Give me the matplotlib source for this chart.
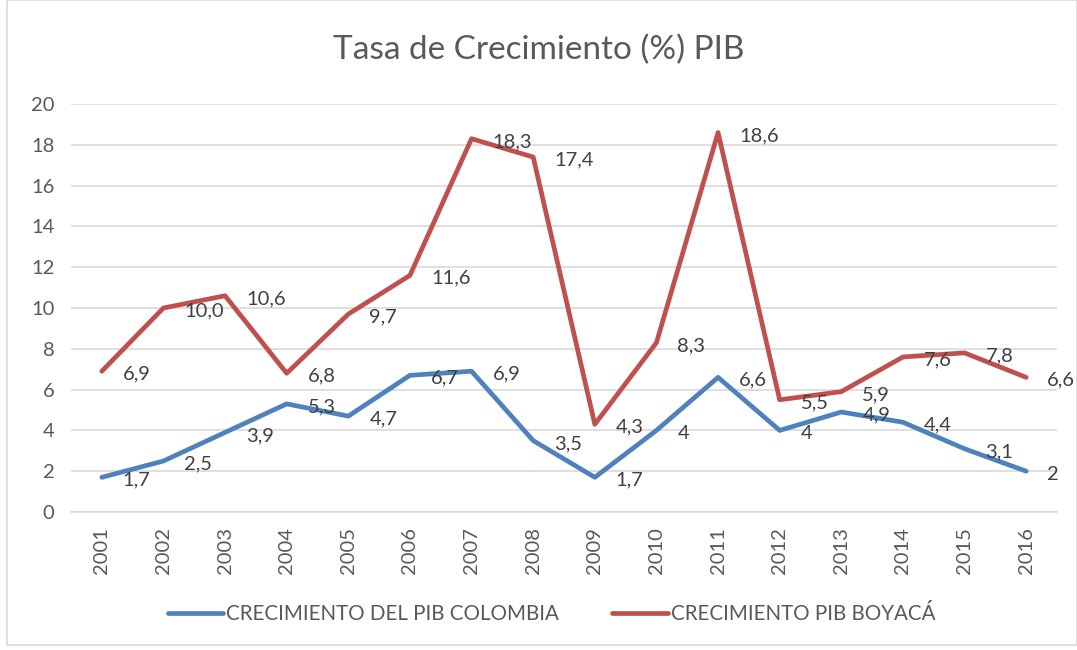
import matplotlib
matplotlib.use("Agg")
import matplotlib.pyplot as plt
from matplotlib.patches import Rectangle

years = ["2001", "2002", "2003", "2004", "2005", "2006", "2007", "2008",
         "2009", "2010", "2011", "2012", "2013", "2014", "2015", "2016"]
colombia = [1.7, 2.5, 3.9, 5.3, 4.7, 6.7, 6.9, 3.5, 1.7, 4, 6.6, 4, 4.9, 4.4, 3.1, 2]
colombia_labels = ["1,7", "2,5", "3,9", "5,3", "4,7", "6,7", "6,9", "3,5",
                   "1,7", "4", "6,6", "4", "4,9", "4,4", "3,1", "2"]
boyaca = [6.9, 10.0, 10.6, 6.8, 9.7, 11.6, 18.3, 17.4, 4.3, 8.3, 18.6, 5.5, 5.9, 7.6, 7.8, 6.6]
boyaca_labels = ["6,9", "10,0", "10,6", "6,8", "9,7", "11,6", "18,3", "17,4",
                 "4,3", "8,3", "18,6", "5,5", "5,9", "7,6", "7,8", "6,6"]
yticks = [0, 2, 4, 6, 8, 10, 12, 14, 16, 18, 20]

plt.rcParams['font.family'] = ['Lato', 'DejaVu Sans']
txt = "#595959"

fig = plt.figure(figsize=(10.77, 6.5), dpi=100)
ax = fig.add_axes([71/1077, 1 - 512/650, (1057-71)/1077, (512-104)/650])

x = list(range(len(years)))
blue = "#4F81BD"
red = "#C0504D"
ax.plot(x, colombia, color=blue, lw=3.4, solid_capstyle='round', solid_joinstyle='round',
        label="CRECIMIENTO DEL PIB COLOMBIA", zorder=3)
ax.plot(x, boyaca, color=red, lw=3.4, solid_capstyle='round', solid_joinstyle='round',
        label="CRECIMIENTO PIB BOYACÁ", zorder=3)

for xi, v, s in zip(x, colombia, colombia_labels):
    ax.annotate(s, (xi, v), xytext=(21, -3), textcoords='offset pixels',
                ha='left', va='center', fontsize=14.5, color="#404040", zorder=4)
for xi, v, s in zip(x, boyaca, boyaca_labels):
    ax.annotate(s, (xi, v), xytext=(21, -3), textcoords='offset pixels',
                ha='left', va='center', fontsize=14.5, color="#404040", zorder=4)

ax.set_xlim(-0.5, len(years) - 0.5)
ax.set_ylim(0, 20)
ax.set_yticks(yticks)
ax.set_yticklabels([str(t) for t in yticks])
ax.set_xticks(x)
ax.set_xticklabels(years, rotation=90)
ax.tick_params(axis='both', length=0, colors=txt, labelsize=14.5)
ax.tick_params(axis='y', pad=12)
ax.tick_params(axis='x', pad=11)
ax.grid(axis='y', color="#D9D9D9", lw=1.2)
ax.set_axisbelow(True)
for sp in ['top', 'right', 'left']:
    ax.spines[sp].set_visible(False)
ax.spines['bottom'].set_color("#D9D9D9")
ax.spines['bottom'].set_linewidth(1.2)

fig.text(0.5, 1 - 50/650, "Tasa de Crecimiento (%) PIB", ha='center', va='center',
         fontsize=24, color=txt)

leg = fig.legend(loc='center', bbox_to_anchor=(0.5 + 13/1077, 1 - 614/650), ncol=2, frameon=False,
                 fontsize=14.8, handlelength=2.7, columnspacing=2.6, handletextpad=0.15)
for t in leg.get_texts():
    t.set_color(txt)

fig.patches.append(Rectangle((7/1077, 5/650), 1 - 7/1077, 1 - 5/650, transform=fig.transFigure,
                             fill=False, edgecolor="#D9D9D9", lw=1.2))

fig.savefig("out.png", dpi=100)
